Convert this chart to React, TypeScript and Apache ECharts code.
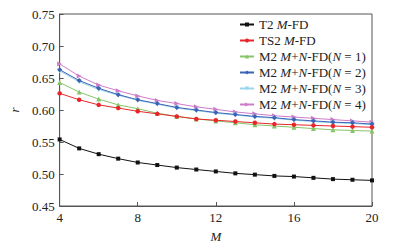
import React, { useEffect, useRef } from "react";
import * as echarts from "echarts";

const mValues = [4, 5, 6, 7, 8, 9, 10, 11, 12, 13, 14, 15, 16, 17, 18, 19, 20];
const t2 = [0.554, 0.540, 0.531, 0.524, 0.518, 0.514, 0.510, 0.507, 0.504, 0.501, 0.499, 0.497, 0.496, 0.494, 0.492, 0.491, 0.490];
const ts2 = [0.626, 0.616, 0.608, 0.603, 0.598, 0.594, 0.590, 0.586, 0.584, 0.582, 0.580, 0.578, 0.577, 0.576, 0.575, 0.574, 0.573];
const m2n1 = [0.643, 0.628, 0.617, 0.608, 0.602, 0.595, 0.590, 0.586, 0.583, 0.580, 0.577, 0.575, 0.573, 0.571, 0.569, 0.568, 0.567];
const m2n2 = [0.663, 0.646, 0.634, 0.624, 0.616, 0.610, 0.604, 0.600, 0.596, 0.593, 0.590, 0.588, 0.585, 0.583, 0.581, 0.580, 0.578];
const m2n3 = [0.661, 0.644, 0.632, 0.623, 0.615, 0.609, 0.603, 0.599, 0.595, 0.592, 0.589, 0.587, 0.584, 0.582, 0.580, 0.579, 0.577];
const m2n4 = [0.672, 0.653, 0.639, 0.630, 0.622, 0.615, 0.610, 0.605, 0.601, 0.597, 0.594, 0.591, 0.589, 0.587, 0.585, 0.583, 0.581];

const seriesNames = ["T2 M-FD", "TS2 M-FD", "M2 M+N-FD(N=1)", "M2 M+N-FD(N=2)", "M2 M+N-FD(N=3)", "M2 M+N-FD(N=4)"];
const legendRich = [
  "{n|T2 }{i|M}{n|-FD}",
  "{n|TS2 }{i|M}{n|-FD}",
  "{n|M2 }{i|M}{n|+}{i|N}{n|-FD(}{i|N}{n| = 1)}",
  "{n|M2 }{i|M}{n|+}{i|N}{n|-FD(}{i|N}{n| = 2)}",
  "{n|M2 }{i|M}{n|+}{i|N}{n|-FD(}{i|N}{n| = 3)}",
  "{n|M2 }{i|M}{n|+}{i|N}{n|-FD(}{i|N}{n| = 4)}",
];
const seriesData = [t2, ts2, m2n1, m2n2, m2n3, m2n4];
const colors = ["#111111", "#e8262a", "#86c46a", "#3b62b5", "#98d6ea", "#cf7ac8"];
const symbols = ["rect", "circle", "triangle", "diamond", "triangle", "triangle"];
const rotations = [0, 0, 0, 0, 180, -90];
const sizes = [4, 4.5, 5, 5, 5, 5];

const FONT = "'Liberation Serif', 'Times New Roman', serif";

export default function App() {
  const ref = useRef<HTMLDivElement>(null);
  useEffect(() => {
    if (!ref.current) return;
    const chart = echarts.init(ref.current, undefined, { renderer: "svg" });
    chart.setOption({
      animation: false,
      backgroundColor: "#ffffff",
      grid: {
        left: 44.5,
        right: 22,
        top: 14,
        bottom: 41,
        show: true,
        borderColor: "#555555",
        borderWidth: 1,
      },
      legend: {
        orient: "vertical",
        left: 234,
        top: 13,
        itemWidth: 14,
        itemHeight: 5,
        itemGap: 3,
        data: seriesNames,
        formatter: (name: string) => legendRich[seriesNames.indexOf(name)],
        textStyle: {
          fontFamily: FONT,
          fontSize: 13,
          color: "#222",
          rich: {
            n: { fontFamily: FONT, fontSize: 13, color: "#222" },
            i: { fontFamily: FONT, fontSize: 13, fontStyle: "italic", color: "#222" },
          },
        },
      },
      xAxis: {
        type: "value",
        min: 4,
        max: 20,
        interval: 4,
        name: "M",
        nameLocation: "middle",
        nameGap: 24,
        nameTextStyle: { fontFamily: FONT, fontSize: 13, fontStyle: "italic", color: "#222" },
        axisLine: { show: true, lineStyle: { color: "#555", width: 1 } },
        axisTick: { show: true, inside: true, length: 4, lineStyle: { color: "#555" } },
        axisLabel: { fontFamily: FONT, fontSize: 13, color: "#222", margin: 5 },
        splitLine: { show: false },
      },
      yAxis: {
        type: "value",
        min: 0.45,
        max: 0.75,
        interval: 0.05,
        name: "r",
        nameLocation: "middle",
        nameGap: 38,
        nameTextStyle: { fontFamily: FONT, fontSize: 13, fontStyle: "italic", color: "#222" },
        axisLine: { show: true, lineStyle: { color: "#555", width: 1 } },
        axisTick: { show: true, inside: true, length: 4, lineStyle: { color: "#555" } },
        axisLabel: {
          fontFamily: FONT,
          fontSize: 13,
          color: "#222",
          margin: 5,
          formatter: (v: number) => v.toFixed(2),
        },
        splitLine: { show: false },
      },
      series: seriesData.map((d, i) => ({
        name: seriesNames[i],
        type: "line",
        data: mValues.map((m, j) => [m, d[j]]),
        symbol: symbols[i],
        symbolRotate: rotations[i],
        symbolSize: sizes[i],
        showAllSymbol: true,
        lineStyle: { color: colors[i], width: 1 },
        itemStyle: { color: colors[i] },
        z: 10 - i,
      })),
    });
    return () => chart.dispose();
  }, []);
  return <div ref={ref} style={{ width: 394, height: 248, position: "absolute", left: 0, top: 0 }} />;
}
